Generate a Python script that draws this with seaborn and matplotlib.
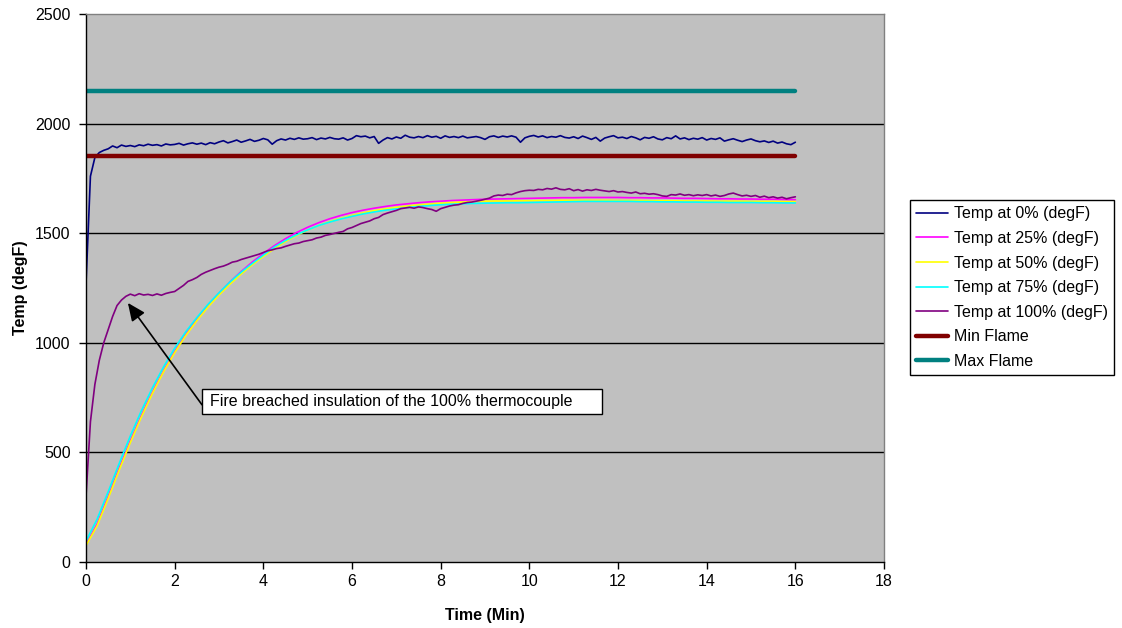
import numpy as np
import pandas as pd
import matplotlib
matplotlib.use("Agg")
import matplotlib.pyplot as plt
from matplotlib.patches import Rectangle
import seaborn as sns

# ---------------- data ----------------
time_fine = np.round(np.arange(0, 16.001, 0.1), 2)      # 0.1-min samples
time_coarse = np.round(np.arange(0, 16.001, 0.25), 2)   # 0.25-min samples

temp_0 = [
    1270, 1760, 1845, 1868, 1878, 1885, 1898, 1890, 1902, 1896, 1900,
    1895, 1903, 1899, 1906, 1901, 1904, 1898, 1907, 1903, 1905,
    1910, 1902, 1908, 1912, 1906, 1911, 1904, 1913, 1908, 1916,
    1922, 1912, 1918, 1925, 1915, 1921, 1928, 1919, 1924, 1932,
    1926, 1906, 1922, 1930, 1925, 1933, 1928, 1935, 1929, 1931,
    1936, 1927, 1934, 1930, 1937, 1931, 1929, 1935, 1925, 1932,
    1945, 1940, 1943, 1935, 1941, 1910, 1925, 1936, 1930, 1939,
    1933, 1947, 1938, 1935, 1941, 1936, 1945, 1938, 1942, 1933,
    1944, 1937, 1941, 1936, 1943, 1935, 1938, 1941, 1936, 1928,
    1940, 1944, 1937, 1943, 1939, 1944, 1938, 1915, 1935, 1942,
    1946, 1939, 1944, 1936, 1941, 1938, 1945, 1937, 1934, 1940,
    1932, 1943, 1936, 1928, 1937, 1920, 1934, 1940, 1945, 1935,
    1938, 1932, 1941, 1935, 1926, 1937, 1933, 1940, 1930, 1926,
    1936, 1931, 1944, 1930, 1935, 1927, 1933, 1929, 1936, 1925,
    1932, 1928, 1935, 1920, 1926, 1931, 1924, 1918, 1925, 1930,
    1922, 1917, 1921, 1914, 1920, 1911, 1916, 1908, 1904, 1915,
]

temp_100 = [
    300, 640, 810, 920, 1000, 1060, 1120, 1170, 1195, 1212, 1222,
    1215, 1224, 1218, 1221, 1216, 1223, 1217, 1225, 1230, 1234,
    1248, 1262, 1280, 1288, 1298, 1312, 1322, 1330, 1338, 1345,
    1350, 1358, 1368, 1372, 1380, 1386, 1392, 1398, 1404, 1412,
    1420, 1424, 1430, 1433, 1440, 1446, 1452, 1455, 1462, 1466,
    1470, 1478, 1482, 1490, 1494, 1499, 1504, 1508, 1520, 1526,
    1535, 1544, 1550, 1556, 1566, 1572, 1585, 1592, 1598, 1604,
    1612, 1615, 1618, 1614, 1620, 1617, 1612, 1608, 1600, 1612,
    1618, 1624, 1628, 1630, 1636, 1640, 1642, 1646, 1650, 1655,
    1660, 1670, 1674, 1672, 1678, 1676, 1684, 1690, 1694, 1696,
    1695, 1700, 1698, 1704, 1701, 1707, 1700, 1698, 1703, 1694,
    1699, 1692, 1698, 1695, 1700, 1696, 1693, 1690, 1694, 1688,
    1690, 1686, 1683, 1688, 1680, 1682, 1678, 1680, 1676, 1670,
    1668, 1676, 1674, 1679, 1673, 1676, 1671, 1675, 1672, 1676,
    1670, 1674, 1668, 1672, 1679, 1683, 1676, 1670, 1673, 1668,
    1672, 1664, 1669, 1662, 1666, 1660, 1664, 1657, 1662, 1666,
]

temp_25 = [
    80, 172, 298, 428, 552, 668, 775, 872, 960, 1038, 1107, 1170, 1226,
    1278, 1325, 1368, 1407, 1443, 1475, 1503, 1527, 1548, 1566, 1581,
    1594, 1605, 1614, 1622, 1629, 1634, 1639, 1643, 1646, 1649, 1651,
    1653, 1655, 1656, 1657, 1658, 1659, 1660, 1661, 1662, 1662, 1663,
    1663, 1663, 1663, 1662, 1662, 1661, 1661, 1660, 1659, 1659, 1658,
    1657, 1657, 1656, 1656, 1655, 1655, 1654, 1653,
]

temp_50 = [
    75, 165, 290, 420, 545, 662, 770, 868, 955, 1033, 1101, 1163, 1218,
    1268, 1314, 1356, 1394, 1430, 1462, 1490, 1514, 1535, 1553, 1568,
    1581, 1593, 1603, 1611, 1618, 1624, 1629, 1633, 1637, 1640, 1642,
    1644, 1646, 1647, 1647, 1648, 1648, 1649, 1649, 1650, 1650, 1650,
    1650, 1650, 1649, 1649, 1649, 1648, 1648, 1648, 1647, 1647, 1647,
    1646, 1646, 1646, 1645, 1645, 1645, 1644, 1644,
]

temp_75 = [
    95, 195, 320, 450, 575, 690, 795, 890, 975, 1050, 1115, 1175, 1228,
    1278, 1322, 1362, 1400, 1437, 1467, 1493, 1515, 1535, 1551, 1565,
    1577, 1588, 1597, 1605, 1611, 1617, 1622, 1626, 1630, 1632, 1634,
    1636, 1637, 1638, 1639, 1639, 1640, 1641, 1642, 1643, 1644, 1645,
    1645, 1645, 1645, 1645, 1644, 1644, 1643, 1643, 1642, 1642, 1641,
    1641, 1640, 1640, 1640, 1639, 1639, 1638, 1638,
]

min_flame = 1850
max_flame = 2150
flame_time = [0, 16]

x_ticks = [0, 2, 4, 6, 8, 10, 12, 14, 16, 18]
y_ticks = [0, 500, 1000, 1500, 2000, 2500]

series_labels = ["Temp at 0% (degF)", "Temp at 25% (degF)", "Temp at 50% (degF)",
                 "Temp at 75% (degF)", "Temp at 100% (degF)", "Min Flame", "Max Flame"]
series_colors = ["#000080", "#FF00FF", "#FFFF00", "#00FFFF", "#800080", "#800000", "#008080"]

annotation_text = "Fire breached insulation of the 100% thermocouple"
annotation_point = (0.945, 1182)

# ---------------- plot ----------------
sns.set_theme(style="white")
plt.rcParams["font.family"] = ["Liberation Sans", "DejaVu Sans"]
plt.rcParams["text.color"] = "black"
plt.rcParams["axes.labelcolor"] = "black"
plt.rcParams["xtick.color"] = "black"
plt.rcParams["ytick.color"] = "black"
FS = 11.5

fig = plt.figure(figsize=(11.22, 6.28), dpi=100)
ax = fig.add_axes([86 / 1122, 1 - 562 / 628, (884 - 86) / 1122, (562 - 14) / 628])
ax.set_facecolor("#C0C0C0")

df_fine = pd.DataFrame({"t": time_fine, "t0": temp_0, "t100": temp_100})
df_coarse = pd.DataFrame({"t": time_coarse, "t25": temp_25, "t50": temp_50, "t75": temp_75})
df_flame = pd.DataFrame({"t": flame_time, "mn": [min_flame] * 2, "mx": [max_flame] * 2})

lw = 1.2
sns.lineplot(data=df_fine, x="t", y="t0", ax=ax, color=series_colors[0], lw=lw, label=series_labels[0])
sns.lineplot(data=df_coarse, x="t", y="t25", ax=ax, color=series_colors[1], lw=lw, label=series_labels[1])
sns.lineplot(data=df_coarse, x="t", y="t50", ax=ax, color=series_colors[2], lw=lw, label=series_labels[2])
sns.lineplot(data=df_coarse, x="t", y="t75", ax=ax, color=series_colors[3], lw=lw, label=series_labels[3])
sns.lineplot(data=df_fine, x="t", y="t100", ax=ax, color=series_colors[4], lw=lw, label=series_labels[4])
sns.lineplot(data=df_flame, x="t", y="mn", ax=ax, color=series_colors[5], lw=3.2, label=series_labels[5])
sns.lineplot(data=df_flame, x="t", y="mx", ax=ax, color=series_colors[6], lw=3.2, label=series_labels[6])

ax.set_xlim(0, 18)
ax.set_ylim(0, 2500)
ax.set_xticks(x_ticks)
ax.set_yticks(y_ticks)
ax.set_xticklabels([str(v) for v in x_ticks], fontsize=FS, color="black")
ax.set_yticklabels([str(v) for v in y_ticks], fontsize=FS, color="black")
ax.tick_params(axis="both", direction="out", length=5, width=1, color="black",
               bottom=True, left=True)
ax.tick_params(axis="y", pad=6)
ax.tick_params(axis="x", pad=4)

for yv in y_ticks[1:-1]:
    ax.axhline(yv, color="black", lw=1, zorder=0.5)

for side in ["left", "bottom"]:
    ax.spines[side].set_color("black")
    ax.spines[side].set_linewidth(1)
for side in ["top", "right"]:
    ax.spines[side].set_color("#808080")
    ax.spines[side].set_linewidth(1)

ax.set_xlabel("Time (Min)", fontsize=FS, fontweight="bold", labelpad=13, color="black")
ax.set_ylabel("Temp (degF)", fontsize=FS, fontweight="bold", labelpad=5, color="black")

# annotation: box, text and arrow
box_x0, box_x1 = (202 - 86) / (798 / 18), (602 - 86) / (798 / 18)
box_y0, box_y1 = (562 - 414) / (548 / 2500), (562 - 389) / (548 / 2500)
box_ymid = (box_y0 + box_y1) / 2
ax.add_patch(Rectangle((box_x0, box_y0), box_x1 - box_x0, box_y1 - box_y0,
                       fc="white", ec="black", lw=1, zorder=6))
ax.text(box_x0 + 0.18, box_ymid, annotation_text, fontsize=FS, ha="left", va="center",
        color="black", zorder=7)
ax.annotate("", xy=annotation_point, xytext=(box_x0, box_ymid - 15),
            arrowprops=dict(arrowstyle="-|>,head_length=0.9,head_width=0.4",
                            color="black", lw=1.2, shrinkA=0, shrinkB=0),
            zorder=5)

handles, labels = ax.get_legend_handles_labels()
ax.get_legend().remove()
leg = fig.legend(handles, labels, loc="upper left",
                 bbox_to_anchor=(910 / 1122, 1 - 200 / 628),
                 fontsize=FS, frameon=True, fancybox=False, shadow=False,
                 edgecolor="black", facecolor="white", framealpha=1,
                 handlelength=2.0, handletextpad=0.35, labelspacing=0.6,
                 borderpad=0.4, borderaxespad=0)
leg.get_frame().set_linewidth(1)
for txt in leg.get_texts():
    txt.set_color("black")

fig.savefig("out.png", dpi=100)
